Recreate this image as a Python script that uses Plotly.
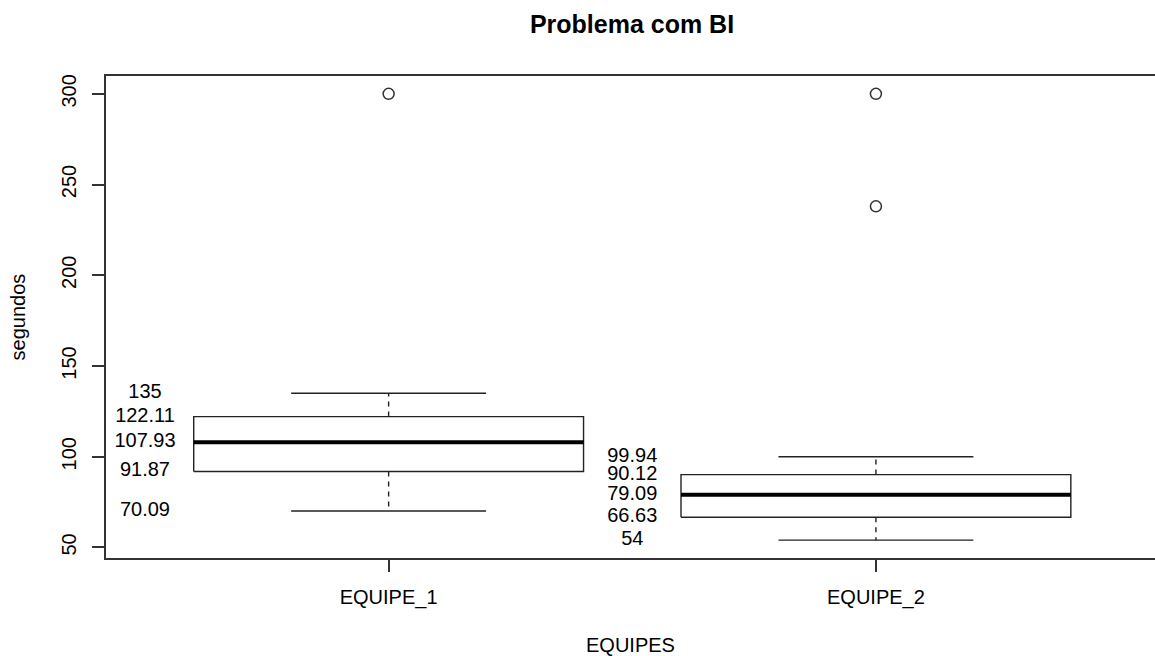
import plotly.graph_objects as go

# Summary statistics per team (seconds)
equipes = ["EQUIPE_1", "EQUIPE_2"]
lower_whisker = [70.09, 54]
q1 = [91.87, 66.63]
median = [107.93, 79.09]
q3 = [122.11, 90.12]
upper_whisker = [135, 99.94]
outliers = [[300], [238, 300]]

FONT = "Liberation Sans, Arial, Helvetica, sans-serif"
BOX_HALF = 0.4      # boxwex 0.8
STAPLE_HALF = 0.2   # staples at half the box width
LINE = "#222"

fig = go.Figure()

for i, name in enumerate(equipes):
    pos = i + 1
    # box outline
    fig.add_trace(go.Scatter(
        x=[pos - BOX_HALF, pos + BOX_HALF, pos + BOX_HALF, pos - BOX_HALF, pos - BOX_HALF],
        y=[q1[i], q1[i], q3[i], q3[i], q1[i]],
        mode="lines", line=dict(color=LINE, width=1.4),
        hoverinfo="skip", showlegend=False))
    # median
    fig.add_trace(go.Scatter(
        x=[pos - BOX_HALF, pos + BOX_HALF], y=[median[i], median[i]],
        mode="lines", line=dict(color="black", width=4),
        hoverinfo="skip", showlegend=False))
    # dashed whiskers
    fig.add_trace(go.Scatter(
        x=[pos, pos, None, pos, pos],
        y=[q3[i], upper_whisker[i], None, q1[i], lower_whisker[i]],
        mode="lines", line=dict(color=LINE, width=1.4, dash="5px,5px"),
        hoverinfo="skip", showlegend=False))
    # staples
    fig.add_trace(go.Scatter(
        x=[pos - STAPLE_HALF, pos + STAPLE_HALF, None, pos - STAPLE_HALF, pos + STAPLE_HALF],
        y=[upper_whisker[i], upper_whisker[i], None, lower_whisker[i], lower_whisker[i]],
        mode="lines", line=dict(color=LINE, width=1.4),
        hoverinfo="skip", showlegend=False))
    # outliers
    fig.add_trace(go.Scatter(
        x=[pos] * len(outliers[i]), y=outliers[i],
        mode="markers",
        marker=dict(symbol="circle-open", size=11, color="#333", line=dict(width=1.5)),
        showlegend=False))
    # five-number labels to the left of each box
    stats = [upper_whisker[i], q3[i], median[i], q1[i], lower_whisker[i]]
    fig.add_trace(go.Scatter(
        x=[pos - 0.5] * len(stats), y=stats,
        mode="text", text=[f"{v:g}" for v in stats],
        textposition="middle center",
        textfont=dict(family=FONT, size=20, color="black"),
        hoverinfo="skip", showlegend=False))

axis_line = dict(showline=True, linecolor="#333", linewidth=1.5,
                 showgrid=False, zeroline=False,
                 ticks="outside", ticklen=12, tickwidth=1.5, tickcolor="#333",
                 tickfont=dict(family=FONT, size=20, color="black"))

fig.update_layout(
    width=1155, height=656,
    margin=dict(l=106, r=0, t=76, b=98),
    paper_bgcolor="white", plot_bgcolor="white",
    title=dict(text="<b>Problema com BI</b>",
               font=dict(family=FONT, size=25, color="black"),
               xref="container", x=632 / 1155, xanchor="center",
               yref="container", y=1 - 24 / 656, yanchor="middle"),
    xaxis=dict(range=[0.42, 2.5727], tickvals=[1, 2], ticktext=equipes,
               mirror=True, ticklabelstandoff=8,
               title=dict(text="EQUIPES", font=dict(family=FONT, size=20, color="black"),
                          standoff=30),
               **axis_line),
    yaxis=dict(range=[44.16, 309.84], tickvals=[50, 100, 150, 200, 250, 300],
               tickangle=-90, ticklabelstandoff=8,
               title=dict(text="segundos", font=dict(family=FONT, size=20, color="black"),
                          standoff=27),
               **axis_line),
)

fig.write_html("out.html")
